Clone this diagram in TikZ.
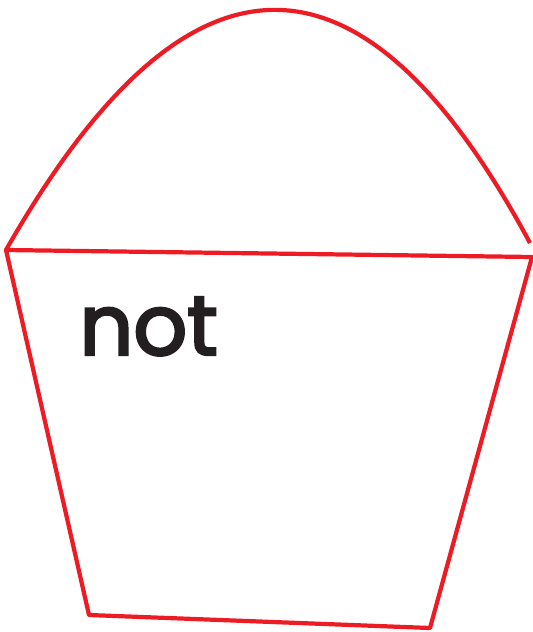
\documentclass[tikz,border=0pt]{standalone}
\usepackage{fontspec}
\newfontfamily\handfont[FakeBold=3]{Poppins}
\definecolor{pailred}{HTML}{ED1C24}
\definecolor{inkgray}{HTML}{231F20}

\begin{document}
\begin{tikzpicture}[x=0.02cm, y=-0.02cm]
\useasboundingbox (0,0) rectangle (533,632);
% Draw pail body
\draw[pailred, line width=2.4pt, line join=round] (6,250) -- (532,257) -- (430,628) -- (89,615) -- cycle;
% Draw handle arc
\draw[pailred, line width=2.4pt] (6,250) .. controls (187,-68) and (362,-70) .. (530,243);
% Label
\node[inkgray, anchor=south west, inner sep=0pt] (label) at (79,356) {\handfont\fontsize{48}{48}\selectfont not};
\end{tikzpicture}
\end{document}
